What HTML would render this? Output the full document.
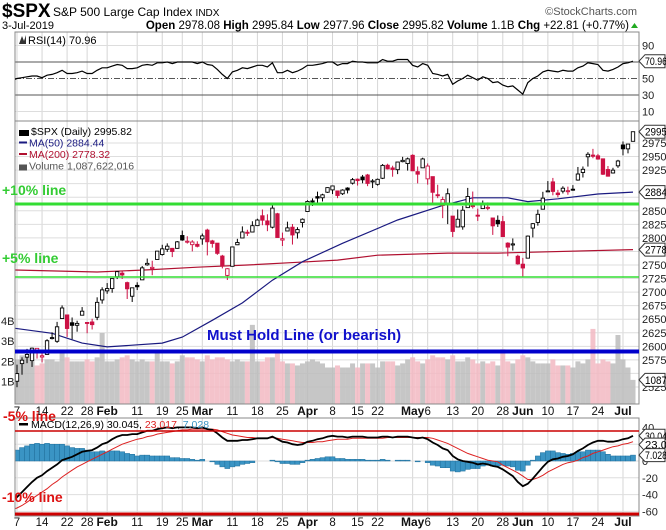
<!DOCTYPE html>
<html><head><meta charset="utf-8"><style>
body{margin:0;background:#fff;}
svg{display:block;font-family:"Liberation Sans",sans-serif;}
</style></head><body>
<svg id="chart" width="666" height="530" viewBox="0 0 666 530">
<defs>
<clipPath id="cp-rsi"><rect x="15" y="32" width="624" height="89"/></clipPath>
<clipPath id="cp-main"><rect x="15" y="121" width="624" height="283"/></clipPath>
<clipPath id="cp-macd"><rect x="15" y="418" width="624" height="98"/></clipPath>
</defs>
<g>
<text x="2" y="17" font-size="19" font-weight="bold">$SPX</text>
<text x="53" y="16" font-size="12">S&amp;P 500 Large Cap Index <tspan font-size="10">INDX</tspan></text>
<text x="637" y="15" font-size="11" fill="#555" text-anchor="end">©StockCharts.com</text>
<text x="2" y="29" font-size="11">3-Jul-2019</text>
<text x="629" y="29" font-size="11.5" text-anchor="end"><tspan font-weight="bold">Open</tspan> 2978.08 <tspan font-weight="bold">High</tspan> 2995.84 <tspan font-weight="bold">Low</tspan> 2977.96 <tspan font-weight="bold">Close</tspan> 2995.82 <tspan font-weight="bold">Volume</tspan> 1.1B <tspan font-weight="bold">Chg</tspan> +22.81 (+0.77%)</text>
<path d="M631 28 L638 28 L634.5 23 Z" fill="#2a2"/>
</g>
<g id="rsi"></g>
<g id="main"></g>
<g id="macd"></g>
<g id="xaxes"></g>
<g id="notes"></g>
</svg>
<script>
// ---- data (trading days Jan 4 2019 .. Jul 3 2019) ----
const opens=[2474.3,
2535.6,2568.1,2580,2573.5,2588,
2580.3,2585.1,2614.8,2609.3,2651.3,
2657.9,2643.5,2638.8,2657.4,
2644,2644.9,2653.6,2685.5,2702.3,
2706.5,2728.3,2735,2717.5,2692.4,
2712.4,2722.6,2750.3,2743.5,2760.2,
2769.3,2779,2780.7,2780.7,
2804.4,2792.4,2787.5,2788.1,2798.2,
2814.4,2794.4,2790.3,2766.5,2730.8,
2747.6,2787.3,2799.8,2810.4,2810.8,
2822.6,2840.8,2831.3,2819.7,2844.5,
2796,2812.7,2819.7,2809.4,2828.3,
2848.6,2868.2,2876.1,2874,2884.2,
2888.5,2886.6,2881.4,2891.9,2900.9,
2908.3,2912.3,2916,2904.8,
2898.8,2910,2934,2929,2925.8,
2940.6,2937.1,2952.3,2922.2,2929.2,
2908.9,2913,2879.6,2859.8,2863.1,
2840.2,2820.1,2820.4,2855.8,2858.6,
2841.9,2854,2856.1,2836.7,2832.4,
2830,2790.3,2786.9,2766.2,
2751.5,2762.6,2818.1,2828.5,2852.9,
2885.8,2903.3,2882.7,2886.2,2886.8,
2889.8,2906.7,2920.6,2949.6,2952.7,
2951.4,2945.8,2926.1,2919.7,2932.9,
2971.4,2964.2,2978.1];
const highs=[2538.1,
2566.2,2579.8,2595.3,2597.8,2596.3,
2589.3,2613.1,2625.8,2645.1,2675.5,
2657.9,2653.2,2647.2,2672.4,
2644,2650.9,2690.4,2708.9,2716.7,
2725,2739,2738.1,2719.3,2708.1,
2718.1,2748.2,2761.9,2757.9,2775.7,
2787.3,2789.9,2781.5,2794.2,
2813.5,2803.1,2795.8,2793.7,2808,
2816.9,2796.4,2790.3,2768.7,2744.1,
2784,2798.3,2821.2,2815,2830.7,
2835.4,2852.4,2843.5,2860.3,2846.2,
2809.8,2829.9,2825.6,2819.7,2836,
2869.4,2872.9,2885.3,2881.3,2893.2,
2895.9,2886.9,2889.7,2893.4,2910.5,
2909.6,2916.1,2918,2908.4,
2909.5,2936.3,2936.8,2933.1,2939.9,
2949.5,2948.2,2954.1,2931.7,2947.9,
2937.3,2913,2898,2876,2891.3,
2840.2,2852.5,2858.7,2892.2,2885.5,
2853.9,2868.9,2865.5,2836.7,2841.4,
2840.5,2792,2799,2769,
2763.1,2804.5,2827.3,2852.1,2885,
2904.8,2910.6,2888.6,2895.2,2894.5,
2897.3,2930.8,2931.7,2958.1,2964.2,
2954.9,2946.5,2932.6,2929.3,2944,
2977.9,2973.2,2995.8];
const lows=[2474.3,
2524.6,2547.6,2568.9,2562,2577.4,
2570.4,2585.1,2612.7,2606.4,2652.3,
2617.3,2612.9,2627,2657.3,
2624.1,2631.1,2648.3,2678.7,2696.9,
2698.8,2724,2724.2,2687.3,2681.8,
2703.8,2722.6,2748.6,2731.2,2760.2,
2767.3,2774.1,2764.6,2780,
2794.6,2789.5,2775.1,2782.5,2787.4,
2767.7,2782,2768.7,2743.7,2722.3,
2747.6,2786.7,2799.8,2803.5,2810.8,
2822,2823.3,2812.4,2817.4,2800.5,
2785,2812.7,2787.7,2798.8,2819.2,
2848.6,2858.8,2865.2,2867.1,2883,
2880.8,2873.3,2879.1,2882,2898.4,
2896.5,2900.7,2895.4,2891.9,
2896.4,2908.5,2926.1,2912.8,2917.6,
2939.4,2924.1,2923.4,2900.5,2929.2,
2898.2,2862.6,2873.3,2836.4,2825.4,
2801.4,2820.1,2815.1,2855.8,2854.2,
2831.3,2854,2851.1,2805.5,2820.2,
2801.6,2766.1,2776.7,2750.5,
2728.8,2762.6,2800.9,2822.5,2852.9,
2885.5,2878.5,2874.7,2882,2879.6,
2886.9,2905.4,2911.4,2931.5,2946.9,
2944.1,2916,2913,2918.6,2929.1,
2952.2,2955.9,2978];
const closes=[2531.9,
2549.7,2574.4,2585,2596.6,2596.3,
2582.6,2610.3,2616.1,2636,2670.7,
2632.9,2638.7,2642.3,2664.8,
2643.9,2640,2681.1,2704.1,2706.5,
2724.9,2737.7,2731.6,2706.1,2707.9,
2709.8,2744.7,2753,2745.7,2775.6,
2779.8,2784.7,2774.9,2792.7,
2796.1,2793.9,2792.4,2784.5,2803.7,
2792.8,2789.7,2771.5,2748.9,2743.1,
2783.3,2791.5,2810.9,2808.5,2822.5,
2832.9,2832.6,2824.2,2854.9,2800.7,
2798.4,2818.5,2805.4,2815.4,2834.4,
2867.2,2867.2,2873.4,2879.4,2892.7,
2895.8,2878.2,2888.2,2888.3,2907.4,
2905.6,2907.1,2900.5,2905,
2908,2933.7,2927.3,2926.2,2939.9,
2943,2945.8,2923.7,2917.5,2945.6,
2932.5,2884.1,2879.4,2870.7,2881.4,
2811.9,2834.4,2851,2876.3,2859.5,
2840.2,2864.4,2856.3,2822.2,2826.1,
2802.4,2783,2788.9,2752.1,
2744.5,2803.3,2826.2,2843.5,2873.3,
2886.7,2885.7,2879.8,2891.6,2887,
2889.7,2917.8,2926.5,2954.2,2950.5,
2945.4,2917.4,2913.8,2924.9,2941.8,
2964.3,2973,2995.8];
const volumes=[2.1,
2.1,2.3,2.2,2.0,1.8,
1.9,2.1,2.1,2.0,2.4,
2.2,2.0,2.0,2.0,
2.1,2.0,2.2,3.4,2.0,
2.0,2.1,2.2,2.3,2.1,
2.0,2.1,2.0,2.0,2.4,
2.0,2.0,1.9,2.0,
2.3,2.2,2.2,2.1,2.0,
2.3,2.1,2.2,2.2,2.1,
2.0,2.1,2.0,2.0,3.8,
2.0,2.0,2.2,2.2,2.4,
2.0,1.9,1.9,1.8,1.9,
2.0,2.1,2.0,1.9,1.7,
1.7,1.8,1.7,1.7,1.9,
1.7,1.9,1.9,1.9,
1.7,2.0,2.0,2.0,1.8,
1.9,2.1,2.2,2.0,1.9,
2.1,2.3,2.2,2.2,2.1,
2.3,2.0,2.0,2.2,2.1,
1.9,2.0,1.9,2.0,1.8,
2.6,2.0,1.9,2.1,
2.3,2.2,2.0,1.9,1.9,
1.9,2.1,1.8,1.8,1.8,
1.7,2.0,1.9,2.1,3.6,
1.9,2.1,2.0,1.9,3.3,
2.1,1.7,1.09];
const rsiValues=[48,
50,51,52,53,53, 51,54,55,57,60, 56,56,57,59, 56,56,60,63,63,
65,67,66,62,62, 63,66,67,66,69, 69,70,68,70, 70,70,70,68,70,
67,66,61,55,50, 58,60,63,62,64, 66,66,64,69,57, 57,60,57,59,62,
66,66,67,68,70, 70,66,68,68,71, 70,70,69,69, 69,73,71,71,73, 73,73,66,64,68,
66,56,55,53,55, 43,47,50,54,51, 48,52,50,45,46, 42,40,41,36,
31,45,50,53,58, 60,59,58,60,59, 59,63,65,69,68, 67,60,59,61,64, 68,69,70.96];
const macdValues=[-48,
-43,-37,-31,-25,-20, -17,-12,-8,-4,1, 3,5,8,11, 12,13,16,20,22,
26,29,31,31,32, 32,34,36,36,38, 39,40,39,40, 40,40,40,39,40,
38,37,33,28,24, 24,24,25,25,26, 27,27,27,29,26, 23,22,20,19,20,
23,24,26,27,29, 30,29,29,28,29, 29,29,28,28, 28,29,29,28,29, 29,29,28,27,28,
26,22,19,15,13, 6,2,0,-1,-2, -4,-3,-4,-6,-7, -10,-14,-18,-25,
-30,-27,-21,-14,-7, -1,2,3,5,6, 8,12,15,19,22, 24,24,23,23,24, 26,27,30.045];
const signalValues=[-58,
-56,-53,-49,-45,-41, -37,-33,-28,-24,-19, -15,-11,-7,-4, -1,2,5,8,11,
14,17,20,22,24, 26,27,29,30,32, 33,34,35,36, 37,37,38,38,38,
38,38,37,35,33, 31,30,29,28,28, 27,27,27,28,27, 26,25,24,23,22,
22,22,23,23,24, 25,26,26,26,27, 27,27,27,27, 27,27,28,28,28, 28,28,28,28,28,
28,27,25,23,21, 18,15,12,9,7, 5,3,1,0,-1, -5,-8,-11,-14,
-18,-22,-22,-20,-17, -13,-10,-7,-4,-2, -1,1,4,6,9, 11,13,15,17,18, 20,21,23.017];
const ma50Idx=[0,8,14,19,24,30,34,40,46,52,58,66,77,86,92,99,103,109,117,124];
const ma50Values=[2634,2624,2606,2599,2602,2606,2617,2648,2680,2722,2756,2790,2833,2860,2874,2874,2867,2872,2881,2884.44];
const ma200Idx=[0,17,27,37,47,57,65,73,87,97,124];
const ma200Values=[2741,2737,2741,2746,2750,2755,2759,2768,2772,2772,2778.32];
const priceTicks=[2525,2550,2575,2600,2625,2650,2675,2700,2725,2750,2775,2800,2825,2850,2875,2900,2925,2950,2975];
const volTicks=[1,2,3,4];
const rsiTicks=[90,50,30,10];
const macdTicks=[40,0,-20,-40,-60];

// ---- trading-day calendar ----
const holidays=['2019-01-21','2019-02-18','2019-04-19','2019-05-27'];
const dates=[];
(function(){let d=new Date(Date.UTC(2019,0,4));const end=Date.UTC(2019,6,3);
while(d.getTime()<=end){const w=d.getUTCDay();const s=d.toISOString().slice(0,10);
if(w!==0&&w!==6&&holidays.indexOf(s)<0)dates.push(new Date(d.getTime()));d=new Date(d.getTime()+86400000);}})();

const NS='http://www.w3.org/2000/svg';
function mk(tag,attrs,parent){const e=document.createElementNS(NS,tag);for(const k in attrs)e.setAttribute(k,attrs[k]);parent.appendChild(e);return e;}
const N=closes.length;
const X0=12, XR=633;
const xs=i=>X0+(XR-X0)*i/(N-1);
const yP=p=>143+(2975-p)*0.5422;
const yV=v=>402-v*20.3;
const yR=v=>62+(70-v)*0.825;
const yM=v=>461-v*0.84;
const PL=15, PR=639;

const monthNames=['Jan','Feb','Mar','Apr','May','Jun','Jul'];
const monthStarts=[];
for(let i=1;i<dates.length;i++){if(dates[i].getUTCMonth()!==dates[i-1].getUTCMonth())monthStarts.push(i);}
const labels=[];
for(let i=0;i<N;i++){const d=dates[i];if(!d)continue;const prev=dates[i-1];
 const newMonth=prev&&prev.getUTCMonth()!==d.getUTCMonth();
 const newWeek=prev&&(d.getUTCDay()<prev.getUTCDay()||d-prev>3*86400000);
 if(newMonth)labels.push({i:i,t:monthNames[d.getUTCMonth()],b:true});
 else if(newWeek||i===1){
   if(labels.length&&labels[labels.length-1].b&&i-labels[labels.length-1].i<2)continue;
   if(monthStarts.some(m=>m>i&&m-i<=3))continue;
   labels.push({i:i,t:String(d.getUTCDate()),b:false});}
}

function grid(g,y1,y2){labels.forEach(l=>{const ln=mk('line',{x1:xs(l.i),x2:xs(l.i),y1:y1,y2:y2,stroke:'#d6d6d6','stroke-width':1},g);

});}
function frame(g,y1,y2,name){const r=mk('rect',{x:PL,y:y1,width:PR-PL,height:y2-y1,fill:'none',stroke:'#888','stroke-width':1},g);

}
function axLabel(g,y,t,name){const e=mk('text',{x:642,y:y+4,'font-size':11,fill:'#222'},g);e.textContent=t;

return e;}
function tag(g,y,t,name){const p=mk('path',{d:`M639 ${y} L645 ${y-6.5} L665 ${y-6.5} L665 ${y+6.5} L645 ${y+6.5} Z`,fill:'#fff',stroke:'#333','stroke-width':1},g);


const e=mk('text',{x:645,y:y+4,'font-size':11,fill:'#000',textLength:22,lengthAdjust:'spacingAndGlyphs'},g);e.textContent=t;

}
function hline(g,y,st,dash,name,w){const l=mk('line',{x1:PL,x2:PR,y1:y,y2:y,stroke:st,'stroke-width':w||1},g);if(dash)l.setAttribute('stroke-dasharray',dash);

}

// ---- RSI ----
(function(){const g=document.getElementById('rsi');
grid(g,32,121);
[90,10].forEach(v=>hline(g,yR(v),'#ddd',null,'rsi-gridline'));
hline(g,yR(70),'#555',null,'rsi-70-line');hline(g,yR(30),'#555',null,'rsi-30-line');
hline(g,yR(50),'#555','6,2,1,2','rsi-50-line');
frame(g,32,121,'rsi-frame');
const pts=rsiValues.map((v,i)=>xs(i).toFixed(1)+','+yR(v).toFixed(1)).join(' ');
const pl=mk('polyline',{points:pts,fill:'none',stroke:'#000','stroke-width':1.2,'clip-path':'url(#cp-rsi)'},g);


rsiTicks.forEach(v=>axLabel(g,yR(v),String(v),'rsi-tick'));
tag(g,yR(rsiValues[N-1]),'70.96','rsi-value-tag');
const t=mk('text',{x:28,y:44,'font-size':11,fill:'#000'},g);t.textContent='RSI(14) 70.96';


const ic=mk('path',{d:'M19 44 L22 36 L24 41 L26 35 L26 44 Z',fill:'#333'},g);


})();

// ---- Main ----
(function(){const g=document.getElementById('main');
grid(g,121,404);
priceTicks.forEach(p=>hline(g,yP(p),'#dedede',null,'price-gridline'));
const cg=mk('g',{'clip-path':'url(#cp-main)'},g);


for(let i=0;i<N;i++){const down=i>0&&closes[i]<closes[i-1];
 const r=mk('rect',{x:xs(i)-2.5,y:yV(volumes[i]),width:5,height:402-yV(volumes[i])+2,fill:down?'#f2b8c2':'#bcbcbc',opacity:0.85},cg);
 
 }
const l200=mk('polyline',{points:ma200Idx.map((ix,k)=>xs(ix).toFixed(1)+','+yP(ma200Values[k]).toFixed(1)).join(' '),fill:'none',stroke:'#b01030','stroke-width':1.2},cg);


const l50=mk('polyline',{points:ma50Idx.map((ix,k)=>xs(ix).toFixed(1)+','+yP(ma50Values[k]).toFixed(1)).join(' '),fill:'none',stroke:'#1a1a80','stroke-width':1.2},cg);


for(let i=0;i<N;i++){const o=opens[i],c=closes[i],h=highs[i],lo=lows[i];
 const down=i>0&&c<closes[i-1];const col=down?'#cc1144':'#000';const x=xs(i);
 const w=mk('line',{x1:x,x2:x,y1:yP(h),y2:yP(lo),stroke:col,'stroke-width':1},cg);
 
 
 const yt=yP(Math.max(o,c)),yb=yP(Math.min(o,c));
 const b=mk('rect',{x:x-1.7,y:yt,width:3.4,height:Math.max(1,yb-yt),fill:c>o?'#fff':col,stroke:col,'stroke-width':0.9},cg);
 
 }
frame(g,121,404,'price-frame');
priceTicks.forEach(p=>{if(Math.abs(yP(p)-yP(2995.82))>9&&Math.abs(yP(p)-yP(2884.44))>9&&Math.abs(yP(p)-yP(2778.32))>9&&p!==2550)axLabel(g,yP(p),String(p),'price-tick');});
volTicks.forEach(v=>{const e=mk('text',{x:1,y:yV(v)+4,'font-size':11,fill:'#222'},g);e.textContent=v+'B';
 
 });
tag(g,yP(2995.82),'2995','last-price-tag');
tag(g,yP(ma50Values[ma50Values.length-1]),'2884','ma50-tag');
tag(g,yP(ma200Values[ma200Values.length-1]),'2778','ma200-tag');
tag(g,yV(volumes[N-1]),'1087','volume-tag');
const leg=[['$SPX (Daily) 2995.82','#000','price-legend'],['MA(50) 2884.44','#1a1a80','ma50-legend'],['MA(200) 2778.32','#b01030','ma200-legend'],['Volume 1,087,622,016','#555','volume-legend']];
leg.forEach((l,k)=>{const y=135+k*11.5;const t=mk('text',{x:k===0?31:29,y:y,'font-size':10.5,fill:l[1]},g);t.textContent=l[0];
 
 
 const m=mk('rect',{x:19,y:y-5,width:k===0?10:8,height:k===0||k===3?6:2,fill:l[1]},g);
 
 });
})();

// ---- MACD ----
(function(){const g=document.getElementById('macd');
grid(g,418,516);
[20,0,-20,-40,-60].forEach(v=>hline(g,yM(v),'#dedede',null,'macd-gridline'));
const cg=mk('g',{'clip-path':'url(#cp-macd)'},g);


for(let i=0;i<N;i++){const h=macdValues[i]-signalValues[i];const y0=yM(0),y1=yM(h);
 const r=mk('rect',{x:xs(i)-2.5,y:Math.min(y0,y1),width:5,height:Math.abs(y1-y0),fill:'#3a94c4',stroke:'#1f6f9c','stroke-width':0.5},cg);
 
 }
const sl=mk('polyline',{points:signalValues.map((v,i)=>xs(i).toFixed(1)+','+yM(v).toFixed(1)).join(' '),fill:'none',stroke:'#dd2222','stroke-width':1},cg);


const ml=mk('polyline',{points:macdValues.map((v,i)=>xs(i).toFixed(1)+','+yM(v).toFixed(1)).join(' '),fill:'none',stroke:'#000','stroke-width':1.8},cg);


frame(g,418,516,'macd-frame');
macdTicks.forEach(v=>axLabel(g,yM(v),String(v),'macd-tick'));
tag(g,yM(30.045),'30.04','macd-value-tag');
tag(g,yM(23.017)+3,'23.0','signal-value-tag');
tag(g,yM(7.028),'7.028','histogram-value-tag');
const t=mk('text',{x:31,y:428,'font-size':10.5,fill:'#000'},g);
t.innerHTML='MACD(12,26,9) 30.045, <tspan fill="#dd2222">23.017</tspan>, <tspan fill="#3a94c4">7.028</tspan>';


const m=mk('rect',{x:19,y:423,width:9,height:2.5,fill:'#000'},g);


})();

// ---- x axes ----
(function(){const g=document.getElementById('xaxes');
[415,526].forEach(y=>{labels.forEach(l=>{const e=mk('text',{x:xs(l.i),y:y,'font-size':l.b?12:11.5,'font-weight':l.b?'bold':'normal','text-anchor':'middle',fill:'#111'},g);
 e.textContent=l.t;
 
 });});
})();

// ---- annotations ----
(function(){const g=document.getElementById('notes');
function ln(y,col,w,name){const l=mk('line',{x1:PL,x2:PR,y1:y,y2:y,stroke:col,'stroke-width':w},g);
 
 }
function tx(x,y,t,col,fs,name){const e=mk('text',{x:x,y:y,'font-size':fs,'font-weight':'bold',fill:col},g);e.textContent=t;
 
 }
ln(204,'#33dd33',3,'plus-10pct-line');
ln(277,'#33dd33',1.5,'plus-5pct-line');
ln(351.5,'#0000cc',4,'must-hold-line');
ln(431,'#cc0000',1.5,'minus-5pct-line');
ln(514,'#cc0000',3,'minus-10pct-line');
tx(2,195,'+10% line','#33cc33',14,'plus-10pct-label');
tx(2,263,'+5% line','#33cc33',14,'plus-5pct-label');
tx(207,340,'Must Hold Line (or bearish)','#1010cc',15,'must-hold-label');
tx(3,421,'-5% line','#dd1111',14,'minus-5pct-label');
tx(2,502,'-10% line','#dd1111',14,'minus-10pct-label');
})();
</script>
</body></html>
